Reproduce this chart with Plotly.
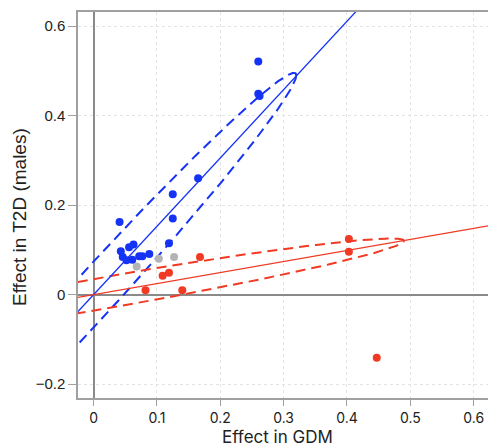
import numpy as np
import plotly.graph_objects as go

# ---- data ----
blue_x = [0.041, 0.125, 0.125, 0.119, 0.043, 0.056, 0.063, 0.046, 0.052, 0.061, 0.072, 0.077, 0.088, 0.165, 0.260, 0.260, 0.262]
blue_y = [0.162, 0.224, 0.170, 0.115, 0.097, 0.106, 0.112, 0.084, 0.077, 0.078, 0.086, 0.086, 0.091, 0.260, 0.521, 0.449, 0.444]
gray_x = [0.068, 0.103, 0.127]
gray_y = [0.063, 0.080, 0.084]
red_x = [0.109, 0.119, 0.082, 0.140, 0.168, 0.403, 0.403, 0.447]
red_y = [0.042, 0.049, 0.010, 0.010, 0.084, 0.124, 0.096, -0.141]

blue_slope = 1.527
red_slope = 0.247
# ellipse (centred at origin): tip point and vertical half-width
blue_tip = (0.320, 0.490)
blue_half = 0.074
red_tip = (0.490, 0.120)
red_half = 0.036

x_ticks = [0, 0.1, 0.2, 0.3, 0.4, 0.5, 0.6]
x_ticktext = ["0", "0.1", "0.2", "0.3", "0.4", "0.5", "0.6"]
y_ticks = [-0.2, 0, 0.2, 0.4, 0.6]
y_ticktext = ["\u22120.2", "0", "0.2", "0.4", "0.6"]

x_range = [-0.0246, 0.6226]
y_range = [-0.231, 0.6315]

BLUE = "#1533f5"
RED = "#f03a24"
GRAY = "#b4b4b4"

fig = go.Figure()

def ellipse(tip, half):
    t = np.linspace(0, 2 * np.pi, 400)
    return tip[0] * np.cos(t), tip[1] * np.cos(t) + half * np.sin(t)

for tip, half, col in [(blue_tip, blue_half, BLUE), (red_tip, red_half, RED)]:
    ex, ey = ellipse(tip, half)
    fig.add_trace(go.Scatter(x=ex, y=ey, mode="lines",
                             line=dict(color=col, width=2, dash="10px,6px"),
                             hoverinfo="skip", showlegend=False))

lx = np.array([-1.0, 1.0])
fig.add_trace(go.Scatter(x=lx, y=blue_slope * lx, mode="lines",
                         line=dict(color=BLUE, width=1.3), showlegend=False))
fig.add_trace(go.Scatter(x=lx, y=red_slope * lx, mode="lines",
                         line=dict(color=RED, width=1.3), showlegend=False))

for xs, ys, col in [(gray_x, gray_y, GRAY), (red_x, red_y, RED), (blue_x, blue_y, BLUE)]:
    fig.add_trace(go.Scatter(x=xs, y=ys, mode="markers",
                             marker=dict(color=col, size=8, line=dict(width=0)),
                             showlegend=False))

L, T, R, B = 78, 12, 0, 48
W, H = 488, 446
PW, PH = W - L - R, H - T - B

fig.update_layout(
    width=W, height=H,
    margin=dict(l=L, r=R, t=T, b=B, autoexpand=False),
    paper_bgcolor="white", plot_bgcolor="white",
    font=dict(family="Liberation Sans, Arial, sans-serif", color="#222"),
    annotations=[
        dict(text="Effect in GDM", xref="paper", yref="paper",
             x=(277 - L) / PW, y=-(437 - (T + PH)) / PH, xanchor="center", yanchor="middle",
             showarrow=False, font=dict(family="Inter, sans-serif", size=17, color="#222")),
        dict(text="Effect in T2D (males)", xref="paper", yref="paper", textangle=-90,
             x=-(L - 19.5) / PW, y=((T + PH) - 217.5) / PH, xanchor="center", yanchor="middle",
             showarrow=False, font=dict(family="Liberation Sans, Arial, sans-serif", size=19, color="#222")),
    ],
)
fig.update_xaxes(
    range=x_range, tickvals=x_ticks, ticktext=x_ticktext, automargin=False,
    showgrid=True, gridcolor="#e3e3e3", griddash="dot", gridwidth=1,
    zeroline=True, zerolinecolor="#8a8a8a", zerolinewidth=1.5,
    showline=True, linecolor="#a0a0a0", linewidth=1.5, mirror=True,
    ticks="outside", ticklen=6, tickcolor="#a0a0a0",
    tickfont=dict(family="Inter, Lato, sans-serif", size=14, color="#222"),
)
fig.update_yaxes(
    range=y_range, tickvals=y_ticks, ticktext=y_ticktext, automargin=False,
    showgrid=True, gridcolor="#e3e3e3", griddash="dot", gridwidth=1,
    zeroline=True, zerolinecolor="#8a8a8a", zerolinewidth=1.5,
    showline=True, linecolor="#a0a0a0", linewidth=1.5, mirror=True,
    ticks="outside", ticklen=8, tickcolor="#a0a0a0",
    tickfont=dict(family="Liberation Sans, Arial, sans-serif", size=15, color="#222"),
)

fig.write_html("out.html", config={"displayModeBar": False},
               post_script="document.body.style.margin='0';document.body.style.overflow='hidden';")
